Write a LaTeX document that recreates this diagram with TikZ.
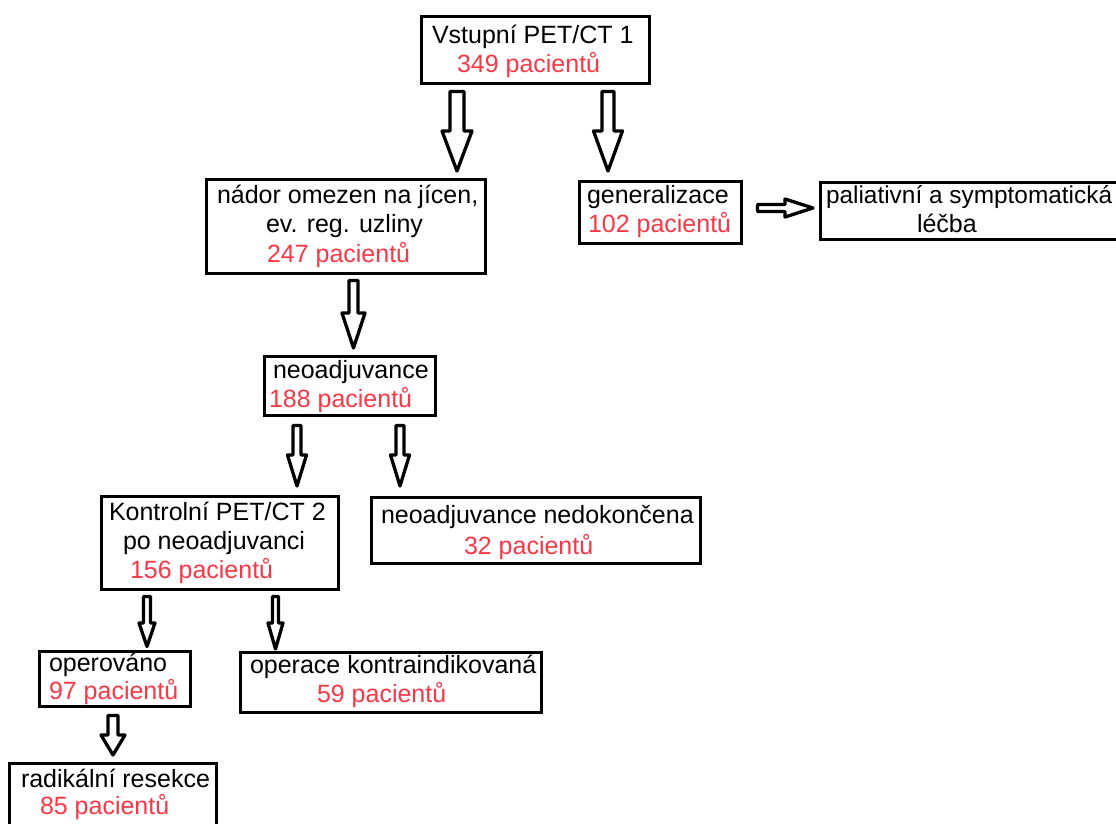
\documentclass[tikz,border=0pt]{standalone}
\usepackage{fontspec}
\setmainfont{Liberation Sans}
\usetikzlibrary{calc}
\definecolor{numred}{RGB}{250,55,70}
\newcommand\vblockarrow[8]{% from, to, x, gap top, gap bottom, shaft half, head half, head length
  \draw[barrow] let \p1=(#1.south), \p2=(#2.north) in
    ({#3pt-#6pt},{\y1-#4pt}) -- ({#3pt+#6pt},{\y1-#4pt})
    -- ({#3pt+#6pt},{\y2+#5pt+#8pt}) -- ({#3pt+#7pt},{\y2+#5pt+#8pt})
    -- ({#3pt},{\y2+#5pt})
    -- ({#3pt-#7pt},{\y2+#5pt+#8pt}) -- ({#3pt-#6pt},{\y2+#5pt+#8pt}) -- cycle;}
\newcommand\hblockarrow[8]{% from, to, y, gap left, gap right, shaft half, head half, head length
  \draw[barrow] let \p1=(#1.east), \p2=(#2.west) in
    ({\x1+#4pt},{-#3pt+#6pt}) -- ({\x2-#5pt-#8pt},{-#3pt+#6pt})
    -- ({\x2-#5pt-#8pt},{-#3pt+#7pt}) -- ({\x2-#5pt},{-#3pt})
    -- ({\x2-#5pt-#8pt},{-#3pt-#7pt}) -- ({\x2-#5pt-#8pt},{-#3pt-#6pt})
    -- ({\x1+#4pt},{-#3pt-#6pt}) -- cycle;}
\begin{document}
\begin{tikzpicture}[x=1pt,y=-1pt,
  box/.style={draw=black, line width=3.5pt, inner sep=0pt, outer sep=0pt, fill=white},
  lbl/.style={anchor=base west, inner sep=0pt, outer sep=0pt, font=\fontsize{25}{29}\selectfont},
  num/.style={lbl, text=numred},
  barrow/.style={draw=black, line width=3.3pt, fill=white, line join=round}]
\useasboundingbox (0,0) rectangle (1116,823);
\clip (0,0) rectangle (1116,823);
\fill[white] (0,0) rectangle (1116,823);

% boxes
\node[box, minimum width=228pt, minimum height=67pt] (b1) at (535.5,50) {};
\node[box, minimum width=279pt, minimum height=94pt] (b2) at (346,226.5) {};
\node[box, minimum width=162pt, minimum height=62pt] (b3) at (660.5,212.5) {};
\node[box, minimum width=298pt, minimum height=57pt] (b4) at (969.5,211) {};
\node[box, minimum width=171pt, minimum height=59pt] (b5) at (350,386) {};
\node[box, minimum width=237pt, minimum height=93pt] (b6) at (220,543) {};
\node[box, minimum width=329pt, minimum height=66pt] (b7) at (536,530.5) {};
\node[box, minimum width=151pt, minimum height=55pt] (b8) at (115,679) {};
\node[box, minimum width=301pt, minimum height=60pt] (b9) at (391,682.5) {};
\node[box, minimum width=207pt, minimum height=65pt] (b10) at (113,796) {};

% texts
\node[lbl] (t1a) at (432,43) {Vstupní PET/CT 1};
\node[num] (t1b) at (457,72) {349 pacientů};
\node[lbl] (t2a) at (217,203) {nádor omezen na jícen,};
\node[lbl] (t2b) at (266,232) {ev. reg. uzliny};
\node[num] (t2c) at (267,262) {247 pacientů};
\node[lbl] (t3a) at (587,203) {generalizace};
\node[num] (t3b) at (588,232) {102 pacientů};
\node[lbl, font=\fontsize{24.4}{29}\selectfont] (t4a) at (826,203) {paliativní a symptomatická};
\node[lbl] (t4b) at (917,232) {léčba};
\node[lbl] (t5a) at (273,378) {neoadjuvance};
\node[num] (t5b) at (269,407) {188 pacientů};
\node[lbl] (t6a) at (109,520) {Kontrolní PET/CT 2};
\node[lbl] (t6b) at (123,549) {po neoadjuvanci};
\node[num] (t6c) at (130,578) {156 pacientů};
\node[lbl] (t7a) at (381,523) {neoadjuvance nedokončena};
\node[num] (t7b) at (464,554) {32 pacientů};
\node[lbl] (t8a) at (49,671) {operováno};
\node[num] (t8b) at (49,699) {97 pacientů};
\node[lbl] (t9a) at (250,673) {operace kontraindikovaná};
\node[num] (t9b) at (317,702) {59 pacientů};
\node[lbl] (t10a) at (21,787) {radikální resekce};
\node[num] (t10b) at (40,814) {85 pacientů};

% block arrows
\vblockarrow{b1}{b2}{457}{8}{8.5}{7}{15}{40}
\vblockarrow{b1}{b3}{608}{8}{10.5}{6}{14.5}{40}
\vblockarrow{b2}{b5}{353.5}{7}{8.5}{4.5}{11.5}{35}
\vblockarrow{b5}{b6}{297}{10}{10.5}{4}{9.5}{31}
\vblockarrow{b5}{b7}{400}{10}{11.5}{4}{9.5}{31}
\vblockarrow{b6}{b8}{147}{7}{5}{3.5}{8}{23.5}
\vblockarrow{b6}{b9}{275.5}{7}{3.5}{3}{7.5}{26}
\vblockarrow{b8}{b10}{113}{9}{8.5}{5}{12}{20}
\hblockarrow{b3}{b4}{208}{16}{7.5}{3.5}{9}{28}
\end{tikzpicture}
\end{document}
